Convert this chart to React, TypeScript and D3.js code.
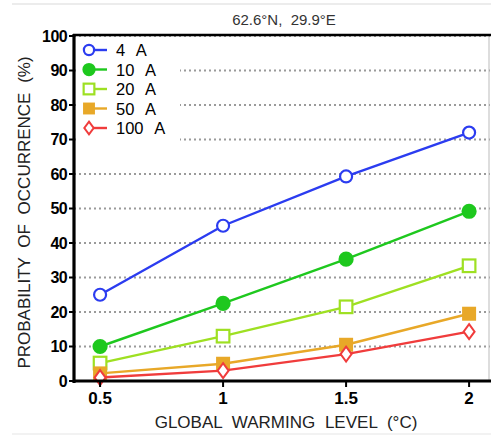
import React from "react";
import * as d3 from "d3";

const gwl = [0.5, 1, 1.5, 2];
const seriesNames = ["4 A", "10 A", "20 A", "50 A", "100 A"];
const s4A = [25, 45, 59.3, 72];
const s10A = [10, 22.5, 35.3, 49.2];
const s20A = [5.2, 13, 21.5, 33.4];
const s50A = [2.2, 5, 10.5, 19.5];
const s100A = [1, 3, 7.8, 14.3];
const yTicks = [0, 10, 20, 30, 40, 50, 60, 70, 80, 90, 100];
const xTicks = [0.5, 1, 1.5, 2];
const title = "62.6°N,  29.9°E";
const xLabel = "GLOBAL WARMING LEVEL (°C)";
const yLabel = "PROBABILITY OF OCCURRENCE (%)";

const styles = [
  { color: "#2b3cf0", shape: "circle", fill: false },
  { color: "#1ec81e", shape: "circle", fill: true },
  { color: "#9ee022", shape: "square", fill: false },
  { color: "#e8a828", shape: "square", fill: true },
  { color: "#f03c3c", shape: "diamond", fill: false },
];

function Marker({ shape, color, fill, x, y, small }: any) {
  const f = fill ? color : "#fff";
  const s = small ? 0.85 : 1;
  if (shape === "circle")
    return <circle cx={x} cy={y} r={(fill ? 6.5 : 6) * s} fill={f} stroke={color} strokeWidth={2.2} />;
  if (shape === "square") {
    const h = (fill ? 7 : 6.3) * s;
    return <rect x={x - h} y={y - h} width={2 * h} height={2 * h} fill={f} stroke={color} strokeWidth={fill ? 0 : 2.2} />;
  }
  return (
    <path
      d={`M${x},${y - 7.5 * s}L${x + 5.5 * s},${y}L${x},${y + 7.5 * s}L${x - 5.5 * s},${y}Z`}
      fill={f}
      stroke={color}
      strokeWidth={2}
    />
  );
}

export default function App() {
  const W = 491, H = 436;
  const left = 74, right = 490, top = 36, bottom = 381;
  const x = d3.scaleLinear().domain([0.394, 2.085]).range([left, right]);
  const y = d3.scaleLinear().domain([0, 100]).range([bottom, top]);
  const all = [s4A, s10A, s20A, s50A, s100A];
  const line = d3
    .line<number>()
    .x((_, i) => x(gwl[i]))
    .y((d) => y(d));
  const font = "'Liberation Sans', Arial, Helvetica, sans-serif";
  return (
    <svg
      width={W}
      height={H}
      style={{ position: "absolute", left: 0, top: 0, background: "#fff" }}
      fontFamily={font}
    >
      <rect x={0} y={0} width={W} height={H} fill="#fff" />
      <line x1={12} x2={W} y1={4} y2={4} stroke="#e6e6e6" strokeWidth={1.5} />
      <line x1={12} x2={W} y1={434} y2={434} stroke="#eeeeee" strokeWidth={1.5} />
      <text x={284} y={25} textAnchor="middle" fontSize={15} fill="#333">
        <tspan style={{ whiteSpace: "pre" }}>{title}</tspan>
      </text>
      {yTicks.filter((t) => t > 0).map((t) => (
        <line
          key={t}
          x1={left}
          x2={right}
          y1={y(t)}
          y2={y(t)}
          stroke="#9a9a9a"
          strokeWidth={2}
          strokeDasharray="2 3"
        />
      ))}
      <rect x={left + 2} y={top + 2} width={104} height={112} fill="#fff" />
      <line x1={489} x2={489} y1={top} y2={bottom} stroke="#bbb" strokeWidth={1} />
      {all.map((s, k) => (
        <g key={k}>
          <path d={line(s) || ""} fill="none" stroke={styles[k].color} strokeWidth={2.4} />
          {s.map((v, i) => (
            <Marker key={i} {...styles[k]} x={x(gwl[i])} y={y(v)} />
          ))}
        </g>
      ))}
      <line x1={left - 1} x2={W} y1={top - 1} y2={top - 1} stroke="#000" strokeWidth={2.5} />
      <line x1={left} x2={left} y1={top - 2} y2={bottom + 2} stroke="#000" strokeWidth={3.2} />
      <line x1={left - 1} x2={W} y1={bottom} y2={bottom} stroke="#000" strokeWidth={3.2} />
      {yTicks.map((t) => (
        <g key={t}>
          <line x1={left - 5} x2={left} y1={y(t)} y2={y(t)} stroke="#000" strokeWidth={2} />
          <text
            x={left - 7}
            y={y(t)}
            dy="0.37em"
            textAnchor="end"
            fontSize={16}
            fontWeight="bold"
            fill="#000"
            letterSpacing={-0.6}
          >
            {t}
          </text>
        </g>
      ))}
      {xTicks.map((t) => (
        <g key={t}>
          <line x1={x(t)} x2={x(t)} y1={bottom} y2={bottom + 6} stroke="#000" strokeWidth={2} />
          <text x={x(t)} y={404} textAnchor="middle" fontSize={17} fontWeight="bold" fill="#000">
            {t}
          </text>
        </g>
      ))}
      <text
        x={286}
        y={428}
        textAnchor="middle"
        fontSize={17}
        fill="#222"
        style={{ wordSpacing: "5px" }}
      >
        {xLabel}
      </text>
      <text
        transform={`translate(30,${(top + bottom) / 2 + 4}) rotate(-90)`}
        textAnchor="middle"
        fontSize={17}
        fill="#222"
        style={{ wordSpacing: "5px" }}
      >
        {yLabel}
      </text>
      {seriesNames.map((n, k) => {
        const ly = 50 + k * 19.5;
        return (
          <g key={n}>
            <line x1={88} x2={107} y1={ly} y2={ly} stroke={styles[k].color} strokeWidth={2.4} />
            <Marker {...styles[k]} x={89} y={ly} small />
            <text x={116} y={ly} dy="0.37em" fontSize={16.5} fill="#000" style={{ wordSpacing: "7px" }}>
              {n}
            </text>
          </g>
        );
      })}
    </svg>
  );
}
